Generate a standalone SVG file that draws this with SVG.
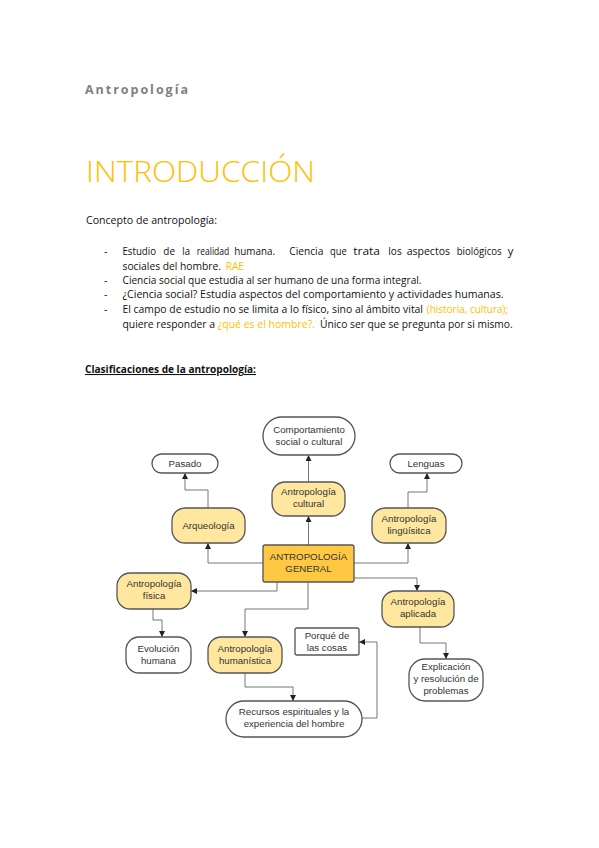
<svg xmlns="http://www.w3.org/2000/svg" width="599" height="848" viewBox="0 0 599 848">
<defs>
<style>
.body{font-family:"Open Sans","Noto Sans","Liberation Sans",sans-serif;font-size:10.5px;fill:#111}
.org{fill:#FFC000}
.n{font-family:"Liberation Sans",Arial,sans-serif;font-size:9.7px;fill:#333;text-anchor:middle}
.y{fill:#FFE7A0;stroke:#555;stroke-width:1.3}
.w{fill:#fff;stroke:#555;stroke-width:1.3}
.g{fill:#FFC843;stroke:#555;stroke-width:1.3}
.c{fill:none;stroke:#777;stroke-width:1;marker-end:url(#ah)}
</style>
<marker id="ah" viewBox="0 0 10 10" refX="10" refY="5" markerWidth="6" markerHeight="6" markerUnits="userSpaceOnUse" orient="auto">
<path d="M0,0 L10,5 L0,10 Z" fill="#222"/>
</marker>
</defs>
<rect width="599" height="848" fill="#fff"/>

<text x="85" y="94" font-family="'Open Sans','Noto Sans',sans-serif" font-size="12.5" font-weight="bold" fill="#7f7f7f" textLength="103" lengthAdjust="spacing">Antropología</text>
<text x="86" y="182" font-family="'Open Sans','Noto Sans',sans-serif" font-size="29.5" font-weight="300" fill="#FFC000" textLength="229" lengthAdjust="spacingAndGlyphs">INTRODUCCIÓN</text>

<text class="body" x="86" y="224" textLength="131" lengthAdjust="spacingAndGlyphs">Concepto de antropología:</text>

<g class="body">
<text x="104" y="255">-</text>
<text x="122.5" y="255" textLength="33.5" lengthAdjust="spacingAndGlyphs">Estudio</text>
<text x="163.3" y="255" textLength="11.7" lengthAdjust="spacingAndGlyphs">de</text>
<text x="182.3" y="255" textLength="7.7" lengthAdjust="spacingAndGlyphs">la</text>
<text x="196.7" y="255" textLength="32.6" lengthAdjust="spacingAndGlyphs">realidad</text>
<text x="234.3" y="255" textLength="40.7" lengthAdjust="spacingAndGlyphs">humana.</text>
<text x="289.3" y="255" textLength="34" lengthAdjust="spacingAndGlyphs">Ciencia</text>
<text x="330" y="255" textLength="16.7" lengthAdjust="spacingAndGlyphs">que</text>
<text x="353.3" y="255" textLength="26.7" lengthAdjust="spacingAndGlyphs">trata</text>
<text x="388.3" y="255" textLength="13.4" lengthAdjust="spacingAndGlyphs">los</text>
<text x="406.7" y="255" textLength="43.3" lengthAdjust="spacingAndGlyphs">aspectos</text>
<text x="456.7" y="255" textLength="45" lengthAdjust="spacingAndGlyphs">biológicos</text>
<text x="507.7" y="255" textLength="5.6" lengthAdjust="spacingAndGlyphs">y</text>
<text x="122.5" y="270" textLength="98.5" lengthAdjust="spacingAndGlyphs">sociales del hombre.</text>
<text class="org" x="225.7" y="270" textLength="18.3" lengthAdjust="spacingAndGlyphs">RAE</text>
<text x="104" y="284">-</text>
<text x="122.5" y="284" textLength="299" lengthAdjust="spacingAndGlyphs">Ciencia social que estudia al ser humano de una forma integral.</text>
<text x="104" y="298">-</text>
<text x="122.5" y="298" textLength="381" lengthAdjust="spacingAndGlyphs">¿Ciencia social? Estudia aspectos del comportamiento y actividades humanas.</text>
<text x="104" y="313">-</text>
<text x="122.5" y="313" textLength="300.5" lengthAdjust="spacingAndGlyphs">El campo de estudio no se limita a lo físico, sino al ámbito vital</text>
<text class="org" x="426.7" y="313" textLength="81.5" lengthAdjust="spacingAndGlyphs">(historia, cultura);</text>
<text x="122.5" y="328" textLength="92.5" lengthAdjust="spacingAndGlyphs">quiere responder a</text>
<text class="org" x="217.7" y="328" textLength="97.3" lengthAdjust="spacingAndGlyphs">¿qué es el hombre?.</text>
<text x="320" y="328" textLength="192.7" lengthAdjust="spacingAndGlyphs">Único ser que se pregunta por si mismo.</text>
</g>

<text class="body" x="85" y="373" font-weight="bold" text-decoration="underline" textLength="171" lengthAdjust="spacingAndGlyphs">Clasificaciones de la antropología:</text>

<g id="connectors">
<path class="c" d="M308.5,545 V516"/>
<path class="c" d="M308.5,482 V455"/>
<path class="c" d="M263,563 H208 V543"/>
<path class="c" d="M208,508 V490 H185 V473"/>
<path class="c" d="M277,582 V591 H191"/>
<path class="c" d="M153,609 V620 H162 V637"/>
<path class="c" d="M308,582 V609 H245 V637"/>
<path class="c" d="M354,563 H408 V543"/>
<path class="c" d="M408,508 V492 H427 V473"/>
<path class="c" d="M354,578 H417 V591"/>
<path class="c" d="M420,627 V643 H446 V659"/>
<path class="c" d="M245,673 V687 H293 V701"/>
<path class="c" d="M362,718 H377 V642 H359"/>
</g>

<g id="comportamiento">
<rect class="w" x="263" y="417" width="92" height="38" rx="19"/>
<text class="n" x="309" y="433">Comportamiento</text>
<text class="n" x="309" y="445">social o cultural</text>
</g>
<g id="pasado">
<rect class="w" x="152" y="454" width="66" height="19" rx="9.5"/>
<text class="n" x="185" y="467">Pasado</text>
</g>
<g id="lenguas">
<rect class="w" x="390" y="454" width="72" height="19" rx="9.5"/>
<text class="n" x="426" y="467">Lenguas</text>
</g>
<g id="cultural">
<rect class="y" x="272" y="482" width="73" height="34" rx="13"/>
<text class="n" x="308.5" y="495">Antropología</text>
<text class="n" x="308.5" y="507">cultural</text>
</g>
<g id="arqueologia">
<rect class="y" x="172" y="508" width="73" height="35" rx="13"/>
<text class="n" x="208.5" y="529">Arqueología</text>
</g>
<g id="linguistica">
<rect class="y" x="372" y="508" width="74" height="35" rx="13"/>
<text class="n" x="409" y="521.5">Antropología</text>
<text class="n" x="409" y="534">lingüísitca</text>
</g>
<g id="general">
<rect class="g" x="263" y="545" width="91" height="37" rx="2"/>
<text class="n" x="308.5" y="560">ANTROPOLOGÍA</text>
<text class="n" x="308.5" y="572">GENERAL</text>
</g>
<g id="fisica">
<rect class="y" x="117" y="573" width="74" height="36" rx="13"/>
<text class="n" x="154" y="587">Antropología</text>
<text class="n" x="154" y="599">física</text>
</g>
<g id="aplicada">
<rect class="y" x="382" y="591" width="72" height="36" rx="13"/>
<text class="n" x="418" y="605">Antropología</text>
<text class="n" x="418" y="617">aplicada</text>
</g>
<g id="evolucion">
<rect class="w" x="126" y="637" width="65" height="36" rx="13"/>
<text class="n" x="158.5" y="652">Evolución</text>
<text class="n" x="158.5" y="663.5">humana</text>
</g>
<g id="humanistica">
<rect class="y" x="208" y="637" width="74" height="36" rx="13"/>
<text class="n" x="245" y="652">Antropología</text>
<text class="n" x="245" y="663.5">humanística</text>
</g>
<g id="porque">
<rect class="w" x="295" y="628" width="64" height="27" rx="2"/>
<text class="n" x="327" y="638.5">Porqué de</text>
<text class="n" x="327" y="650.5">las cosas</text>
</g>
<g id="explicacion">
<rect class="w" x="409" y="659" width="74" height="42" rx="16"/>
<text class="n" x="446" y="670">Explicación</text>
<text class="n" x="446" y="682">y resolución de</text>
<text class="n" x="446" y="694">problemas</text>
</g>
<g id="recursos">
<rect class="w" x="226" y="701" width="136" height="36" rx="18"/>
<text class="n" x="294" y="714.5">Recursos espirituales y la</text>
<text class="n" x="294" y="727">experiencia del hombre</text>
</g>
</svg>
